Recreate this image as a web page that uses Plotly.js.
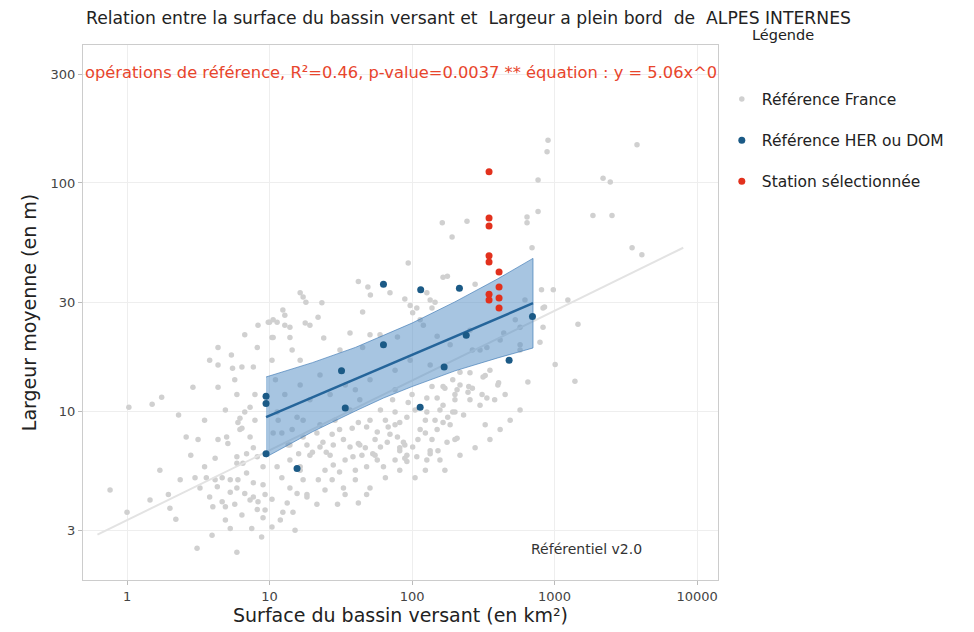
<!DOCTYPE html>
<html>
<head>
<meta charset="utf-8">
<script src="https://cdn.plot.ly/plotly-3.0.1.min.js"></script>
<style>html,body{margin:0;padding:0;background:#fff;}#chart{width:974px;height:632px;}</style>
</head>
<body>
<div id="chart"></div>
<script>
// Référence France (gray)
const franceX = [0.76,1.0,1.03,1.5,1.75,2.3,2.9,4.35,4.35,4.35,5.4,5.5,6.4,7.7,8.2,10.4,10.4,13.9,14.4,10,11.3,12.8,12.8,17.2,17.8,5.9,7.3,6.0,6.4,2.6,3.15,4.35,5.1,5.0,4.15,3.5,3.0,3.25,1.95,2.0,2.2,3.95,3.1,5.9,5.3,6.4,7.5,8.8,10.4,9.0,8.2,3.8,4.65,4.0,4.9,4.3,5.3,5.9,6.7,7.7,8.3,9.3,9.0,10.4,7.7,6.9,5.9,6.5,5.9,6.9,7.7,8.2,9.0,11.3,12.2,13.9,15.6,13.3,14.6,12.4,18.3,3.6,4.65,5.3,6.0,
20,22.6,25,28,33,36.7,42,47,38.5,44.5,53,60,67,79,87,82,92,101,110,124,138,150,176,200,165,178,193,247,335,400,150,127,165,82,68,57,48,42,38,31,27.5,23.7,21.5,18.3,28,31,40,48,24.5,22,27.5,33,18.3,21.5,30,42,48,57,63,76,92,108,134,157,55,65,76,92,105,127,94,73,138,165,207,265,310,200,217,16.4,17.2,
13.9,16,13.5,12.2,11.5,14.4,17.2,17.2,15.6,11.3,10.6,7.3,6.7,6.2,7.9,
12.8,16.4,19.2,22.6,26.6,40,50.7,76,97,134,185,255,300,415,530,573,620,16.4,31.2,59.6,11,
42,49,51,70,89,127,145,97,45,36.7,24,23.3,16.4,12.4,10.6,9.8,13.9,10.6,45,79,120,150,165,
163,243,191,94,177,277,134,108,101,114,138,641,641,766,766,886,900,695,810,980,1240,830,830,1460,1860,2530,2190,2460,3790,3500,4100,
1010,650,1390,405,200,207,152,134,89,127,82,326,255,217,
850,790,573,440,335,573,265,315,250,352,193,
18,21.9,19.2,50.7,6.2,
26.6,33.9,43,55,70,89,114,145,185,230,300,380,450,255,200,157,124,76,50.7,36.7,28.8,22.6,19.2,16.4,13.9,24.5,33.9,40,50.7,65,82,105,124,170,217,277,352,415,488,573,326,76,100,170,43,60,34,
3.5,4.9,7.9,5.7,3.8,6.7,8.3,2.8,4.15,5.7,7.3,9.3,11.9,15.1,4.9,2.36,1.7,1.45];
const franceY = [4.5,3.6,10.4,10.7,11.5,9.6,12.7,12.7,15.9,19,17.6,15.4,15.6,15.6,19,16.7,21,21,18.5,24.5,24.5,26.3,23.8,31.6,24.3,11.8,10.4,8.9,8.4,7.7,7.5,7.5,7.2,7.7,6.2,5.7,5.1,4.6,4.3,3.75,3.35,2.85,2.5,2.4,3.05,3.5,3.05,2.8,3.1,3.4,3.7,4.2,4.0,3.8,3.8,4.65,4.4,4.6,4.35,4.2,4.0,4.3,4.75,4.1,4.85,5.35,5.9,5.9,6.3,6.5,6.9,6.3,5.7,5.7,5.1,4.6,4.35,3.95,3.6,3.6,4.2,5.1,5.1,5.0,5.0,
6.6,6.95,6.6,7.1,7.5,6.95,7.2,6.9,6.3,6.4,6.5,6.95,7.3,7.7,7.3,6.7,6.4,6.95,7.5,8.0,7.5,8.3,7.3,7.5,8.9,9.4,9.9,12.1,11.4,13.0,11.4,11.4,10.6,8.9,8.5,8.1,8.5,8.9,8.4,8.3,7.9,7.3,8.0,7.1,5.8,5.4,5.5,5.7,5.5,5.0,5.0,4.6,4.3,3.9,3.9,3.95,4.3,6.1,5.7,6.1,6.0,6.3,6.7,6.1,7.5,9.1,9.9,9.4,10.1,9.9,10.9,11.2,12.8,12.8,12.4,12.6,11.8,11.2,13.0,5.7,5.0,
6.1,6.5,7.1,8.0,9.1,8.3,7.7,9.1,9.4,9.9,8.0,7.7,9.9,9.3,9.1,
11.8,13.0,11.2,14.4,11.8,12.4,13.7,15.1,16.7,15.9,19.5,22.6,18.5,20.5,25.1,19.5,30.7,16.7,18.5,21.6,13.7,
37,35,32.3,33,31,33,30,29,27.2,22,20.9,29.8,33,27.7,25.1,24.5,23.3,21,19,21.1,23.8,21.3,38.6,
67,68,58,44.6,39,36,30.7,28.3,27,25.1,28.3,71,66.9,75,103,137,154,52,34,34,30.7,28.3,23.3,24,72,72,105,101,147,52,48.5,
16,13.4,13.5,13.3,9.9,7.6,6.7,6.5,6.2,6.1,6.9,14.3,14.7,14.8,
28.6,20,23.3,22,19,18.5,18.5,14.1,12.8,15.1,13.7,
30,25.8,23.8,21.6,8.3,
6.4,6.1,7.1,6.4,7.9,7.1,8.3,9.1,8.7,9.6,10.6,11.2,11.8,11.2,11.8,10.1,9.1,8.7,9.1,10.1,9.1,8.7,6.4,5.5,7.1,4.5,4.3,5.0,4.6,5.1,5.5,5.1,5.5,5.5,6.4,6.9,7.5,8.3,9.1,10.1,8.7,12.4,11.8,12.6,11.2,10.1,13,
9.1,10.1,11.8,13.7,16.7,21.6,23.8,6.4,5.0,3.9,4.07,3.68,3.33,3.0,3.33,5.0,5.5,4.07];

// Référence HER ou DOM (blue)
const herX = [63,115,215,63,32,34,114,168,240,480,700,9.45,9.45,9.45,15.6];
const herY = [36,34,34.5,19.5,15,10.3,10.4,15.6,21.5,16.7,26,11.6,10.8,6.5,5.6];

// Station sélectionnée (red)
const stationX = [347,347,347,347,347,408,408,408,408,347,347];
const stationY = [112,70.2,64.7,47.9,45.0,40.7,35.0,31.3,28.3,30.7,32.5];

// Regression (HER) line and confidence band
const fitX = [9.45,706];
const fitY = [9.4,29.7];
const bandX = [9.45,20,40,63,100,200,400,706];
const bandUpper = [14.1,16.3,19.0,21.4,24.3,30.1,38.0,46.7];
const bandLower = [6.28,8.11,10.0,11.4,12.8,15.0,17.1,18.9];

// National reference line (light gray)
const nationalX = [0.62,8000];
const nationalY = [2.87,52];

const xTicks = [1,10,100,1000,10000];
const xTickText = ['1','10','100','1000','10000'];
const yTicks = [3,10,30,100,300];
const yTickText = ['3','10','30','100','300'];

const FONT = 'DejaVu Sans, Verdana, sans-serif';

const traces = [
  {x: franceX, y: franceY, type:'scatter', mode:'markers', name:'Référence France',
   legendgroup:'a', marker:{color:'#d0d0d0', size:5.5}},
  {x: nationalX, y: nationalY, type:'scatter', mode:'lines', showlegend:false,
   line:{color:'#e3e3e3', width:2}},
  {x: bandX.concat(bandX.slice().reverse()), y: bandUpper.concat(bandLower.slice().reverse()),
   type:'scatter', mode:'lines', fill:'toself', fillcolor:'rgba(80,140,195,0.5)',
   line:{color:'rgba(60,120,180,0.65)', width:1}, showlegend:false},
  {x: fitX, y: fitY, type:'scatter', mode:'lines', showlegend:false,
   line:{color:'#25659a', width:2.5}},
  {x: herX, y: herY, type:'scatter', mode:'markers', name:'Référence HER ou DOM',
   legendgroup:'b', marker:{color:'#1b5a86', size:7}},
  {x: stationX, y: stationY, type:'scatter', mode:'markers', name:'Station sélectionnée',
   legendgroup:'c', marker:{color:'#e2311d', size:7}}
];

const layout = {
  width: 974, height: 632,
  paper_bgcolor:'#ffffff', plot_bgcolor:'#ffffff',
  margin:{l:83, r:256, t:45, b:52},
  font:{family: FONT, color:'#333'},
  title:{text:'Relation entre la surface du bassin versant et  Largeur a plein bord  de  ALPES INTERNES',
    x: 86/974, xanchor:'left', xref:'container', y: 1-18/632, yanchor:'middle', yref:'container',
    font:{family: FONT, size:17.2, color:'#222'}},
  xaxis:{type:'log', range:[-0.309, 4.147], tickvals:xTicks, ticktext:xTickText,
    showgrid:true, gridcolor:'#eeeeee', gridwidth:1, zeroline:false,
    showline:true, mirror:true, linecolor:'#cccccc', linewidth:1,
    ticks:'outside', ticklen:4, tickcolor:'#bbbbbb',
    tickfont:{family: FONT, size:13, color:'#444'},
    title:{text:'Surface du bassin versant (en km²)', font:{family: FONT, size:19, color:'#222'}, standoff:6}},
  yaxis:{type:'log', range:[0.259, 2.605], tickvals:yTicks, ticktext:yTickText,
    showgrid:true, gridcolor:'#eeeeee', gridwidth:1, zeroline:false,
    showline:true, mirror:true, linecolor:'#cccccc', linewidth:1,
    ticks:'outside', ticklen:4, tickcolor:'#bbbbbb',
    tickfont:{family: FONT, size:13, color:'#444'},
    title:{text:'Largeur moyenne (en m)', font:{family: FONT, size:19, color:'#222'}, standoff:8}},
  showlegend:true,
  legend:{x:1.006, xanchor:'left', y:0.93, yanchor:'top', bgcolor:'rgba(0,0,0,0)',
    font:{family: FONT, size:15.5, color:'#222'}, tracegroupgap:18, itemsizing:'trace'},
  annotations:[
    {text:'Légende', xref:'paper', yref:'paper', x:1.102, y:1.0187, xanchor:'center', yanchor:'middle',
     showarrow:false, font:{family: FONT, size:14.5, color:'#222'}},
    {text:'opérations de référence, R²=0.46, p-value=0.0037 ** équation : y = 5.06x^0.27', xref:'paper', yref:'paper',
     x:0, y:(580-73)/535, xanchor:'left', yanchor:'middle', width:632, align:'left', showarrow:false,
     font:{family: FONT, size:16.3, color:'#e8452c'}},
    {text:'Référentiel v2.0', xref:'paper', yref:'paper', x:(586-83)/635, y:(580-549)/535,
     xanchor:'center', yanchor:'middle', showarrow:false, font:{family: FONT, size:14, color:'#333'}}
  ]
};

Plotly.newPlot('chart', traces, layout, {displayModeBar:false, staticPlot:true});
</script>
</body>
</html>
